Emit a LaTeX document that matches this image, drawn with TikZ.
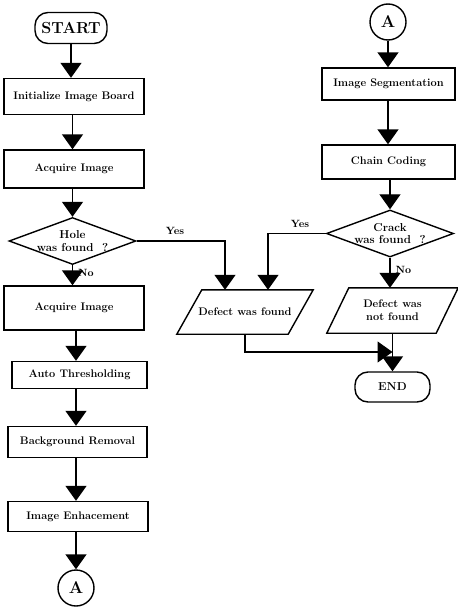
\documentclass[tikz,border=0pt]{standalone}
\usetikzlibrary{arrows.meta,shapes.geometric}
\begin{document}
\begin{tikzpicture}[x=1pt,y=-1pt,
  every node/.style={inner sep=0pt, font=\fontsize{11}{13}\selectfont\bfseries},
  procbox/.style={draw, line width=1.4pt, rectangle},
  termbox/.style={draw, line width=1.4pt, rectangle, rounded corners=13pt},
  connector/.style={draw, line width=1.4pt, circle, minimum size=36pt,
    font=\fontsize{17}{19}\selectfont\bfseries},
  decision/.style={draw, line width=1.4pt, diamond, aspect=2.7,
    minimum width=120pt, minimum height=44pt, align=center,
    font=\fontsize{11.5}{12.5}\selectfont\bfseries},
  iobox/.style={rectangle, align=center},
  arr/.style={line width=1.4pt, -{Triangle[width=21pt,length=15pt]}},
  lbl/.style={font=\fontsize{10.5}{12}\selectfont\bfseries},
]
\useasboundingbox (0,0) rectangle (458,608);

% ---------- left column ----------
\node[termbox, minimum width=72pt, minimum height=31pt,
  font=\fontsize{16}{18}\selectfont\bfseries] (start) at (71,28) {START};
\node[procbox, minimum width=140pt, minimum height=36pt] (init) at (74,96.5) {Initialize Image Board};
\node[procbox, minimum width=140pt, minimum height=38pt] (acq1) at (74,169) {Acquire Image};
\node[decision] (hole) at (72.5,241) {Hole\\was found~~?};
\node[procbox, minimum width=140pt, minimum height=44pt] (acq2) at (74,308) {Acquire Image};
\node[procbox, minimum width=135pt, minimum height=27pt] (thr) at (79.5,375) {Auto Thresholding};
\node[procbox, minimum width=139pt, minimum height=31pt] (bg) at (77.5,442) {Background Removal};
\node[procbox, minimum width=140pt, minimum height=30pt] (enh) at (78,516.5) {Image Enhacement};
\node[connector] (aout) at (76,588) {A};

% ---------- right column ----------
\node[connector] (ain) at (388,22) {A};
\node[procbox, minimum width=133pt, minimum height=32pt] (seg) at (388.5,84) {Image Segmentation};
\node[procbox, minimum width=133pt, minimum height=34pt] (chain) at (388.5,162) {Chain Coding};
\node[decision] (crack) at (390,233.5) {Crack\\was found~~?};

% parallelogram outputs (text nodes plus slanted outlines)
\node[iobox, minimum width=111pt, minimum height=44pt] (dfound) at (245,312) {Defect was found};
\draw[line width=1.4pt] ([xshift=12.5pt]dfound.north west) -- ([xshift=12.5pt]dfound.north east)
  -- ([xshift=-12.5pt]dfound.south east) -- ([xshift=-12.5pt]dfound.south west) -- cycle;
\node[iobox, minimum width=109pt, minimum height=45pt] (nfound) at (392.5,310.5) {Defect was\\not found};
\draw[line width=1.4pt] ([xshift=11pt]nfound.north west) -- ([xshift=11pt]nfound.north east)
  -- ([xshift=-11pt]nfound.south east) -- ([xshift=-11pt]nfound.south west) -- cycle;

\node[termbox, minimum width=75pt, minimum height=30pt, font=\fontsize{11.5}{13}\selectfont\bfseries] (end) at (392.5,387) {END};
\coordinate (join) at (392.5,352);

% ---------- connectors ----------
\draw[arr] (start.south) -- (start.south |- init.north);
\draw[arr] (init.south -| hole) -- (hole.north |- acq1.north);
\draw[arr] (acq1.south -| hole) -- (hole.north);
\draw[arr] (hole.south) -- node[lbl, right=5pt, pos=0.4] {No} (hole.south |- acq2.north);
\draw[arr] (hole.east) -| node[lbl, above=6pt, pos=0.5, xshift=-50pt] {Yes} ([xshift=-20pt]dfound.north);
\draw[arr] (acq2.south -| aout) -- (aout |- thr.north);
\draw[arr] (thr.south -| aout) -- (aout |- bg.north);
\draw[arr] (bg.south -| aout) -- (aout |- enh.north);
\draw[arr] (enh.south -| aout) -- (aout.north);

\draw[arr] (ain.south) -- (ain.south |- seg.north);
\draw[arr] (seg.south -| ain) -- (ain |- chain.north);
\draw[arr] (chain.south -| crack) -- (crack.north);
\draw[arr] (crack.west) -| node[lbl, above=5pt, pos=0.5, xshift=32pt] {Yes} ([xshift=23pt]dfound.north);
\draw[arr] (crack.south) -- node[lbl, right=5pt, pos=0.4] {No} (crack.south |- nfound.north);
\draw[arr] (nfound.south) -- (end.north);
\draw[arr] (dfound.south) |- (join);
\end{tikzpicture}
\end{document}
